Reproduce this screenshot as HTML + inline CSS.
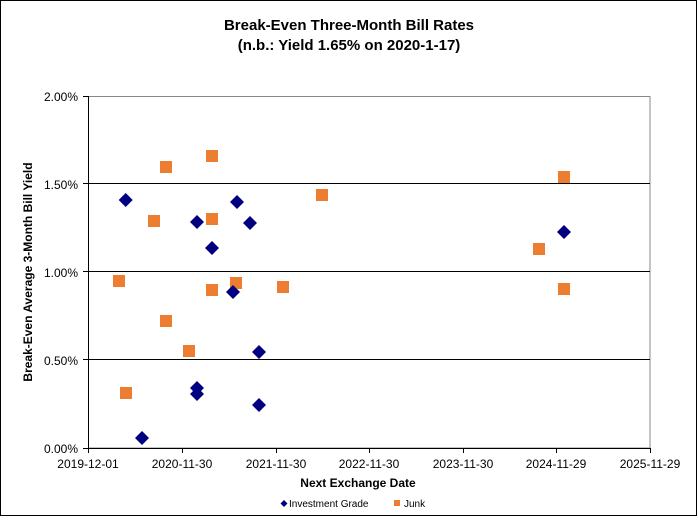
<!DOCTYPE html>
<html><head><meta charset="utf-8"><style>body{margin:0;background:#fff}</style></head><body>
<svg width="698" height="517" xmlns="http://www.w3.org/2000/svg" font-family="Liberation Sans, Arial, sans-serif">
<rect x="0.5" y="0.5" width="696" height="515" fill="#fff" stroke="#000"/>
<text x="349" y="30" text-anchor="middle" font-size="15" font-weight="bold">Break-Even Three-Month Bill Rates</text>
<text x="349" y="50" text-anchor="middle" font-size="15" font-weight="bold">(n.b.: Yield 1.65% on 2020-1-17)</text>
<rect x="88.5" y="96.5" width="561.5" height="351.5" fill="#fff" stroke="#888"/>
<g stroke="#000">
<line x1="88" y1="183.5" x2="650" y2="183.5"/>
<line x1="88" y1="271.5" x2="650" y2="271.5"/>
<line x1="88" y1="359.5" x2="650" y2="359.5"/>
<line x1="88.5" y1="96" x2="88.5" y2="448"/>
<line x1="88" y1="448.5" x2="650" y2="448.5"/>
<line x1="83" y1="96.5" x2="88" y2="96.5"/><line x1="83" y1="183.5" x2="88" y2="183.5"/><line x1="83" y1="271.5" x2="88" y2="271.5"/><line x1="83" y1="359.5" x2="88" y2="359.5"/><line x1="83" y1="448.5" x2="88" y2="448.5"/>
<line x1="88.5" y1="448" x2="88.5" y2="453"/><line x1="182.5" y1="448" x2="182.5" y2="453"/><line x1="276.5" y1="448" x2="276.5" y2="453"/><line x1="369.5" y1="448" x2="369.5" y2="453"/><line x1="463.5" y1="448" x2="463.5" y2="453"/><line x1="556.5" y1="448" x2="556.5" y2="453"/><line x1="650.5" y1="448" x2="650.5" y2="453"/>
</g>
<g font-size="12" text-anchor="end">
<text x="78" y="101">2.00%</text><text x="78" y="189">1.50%</text><text x="78" y="277">1.00%</text><text x="78" y="365">0.50%</text><text x="78" y="453">0.00%</text>
</g>
<g font-size="12" text-anchor="middle">
<text x="88" y="468">2019-12-01</text><text x="182" y="468">2020-11-30</text><text x="276" y="468">2021-11-30</text><text x="369" y="468">2022-11-30</text><text x="463" y="468">2023-11-30</text><text x="556" y="468">2024-11-29</text><text x="650" y="468">2025-11-29</text>
</g>
<text x="358" y="487" text-anchor="middle" font-size="12" font-weight="bold">Next Exchange Date</text>
<text transform="translate(32,272) rotate(-90)" text-anchor="middle" font-size="12" font-weight="bold">Break-Even Average 3-Month Bill Yield</text>
<g fill="#ED7D31">
<rect x="113" y="275" width="12" height="12"/><rect x="120" y="387" width="12" height="12"/><rect x="148" y="215" width="12" height="12"/><rect x="160" y="161" width="12" height="12"/><rect x="160" y="315" width="12" height="12"/><rect x="183" y="345" width="12" height="12"/><rect x="206" y="150" width="12" height="12"/><rect x="206" y="213" width="12" height="12"/><rect x="206" y="284" width="12" height="12"/><rect x="230" y="277" width="12" height="12"/><rect x="277" y="281" width="12" height="12"/><rect x="316" y="189" width="12" height="12"/><rect x="558" y="171" width="12" height="12"/><rect x="533" y="243" width="12" height="12"/><rect x="558" y="283" width="12" height="12"/>
</g>
<g fill="#000080">
<path d="M125.7 193l7 7-7 7-7-7z"/><path d="M142 431l7 7-7 7-7-7z"/><path d="M197 215l7 7-7 7-7-7z"/><path d="M197 381l7 7-7 7-7-7z"/><path d="M197 387l7 7-7 7-7-7z"/><path d="M212 241l7 7-7 7-7-7z"/><path d="M237 195l7 7-7 7-7-7z"/><path d="M233 285l7 7-7 7-7-7z"/><path d="M250 216l7 7-7 7-7-7z"/><path d="M259 345l7 7-7 7-7-7z"/><path d="M259 398l7 7-7 7-7-7z"/><path d="M564 225l7 7-7 7-7-7z"/>
</g>
<path d="M284 500l3.5 3.5-3.5 3.5-3.5-3.5z" fill="#000080"/>
<text x="289" y="507" font-size="10">Investment Grade</text>
<rect x="394" y="500" width="6" height="6" fill="#ED7D31"/>
<text x="404" y="507" font-size="10">Junk</text>
</svg>
</body></html>
